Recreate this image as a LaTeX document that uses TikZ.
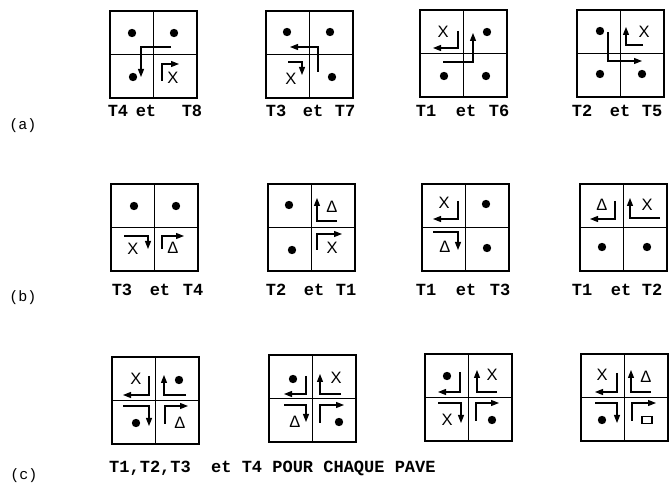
\documentclass[tikz,border=0pt]{standalone}
\usepackage{fontspec}
\setmainfont{Liberation Sans}
\newfontfamily\labfont{Liberation Mono}
\usetikzlibrary{arrows.meta}
\newcommand\sqgrid{\draw[sqframe] (0,0) rectangle (87,87); \draw[sqdiv] (43.5,0) -- (43.5,87) (0,43.5) -- (87,43.5);}
\newcommand\pdot[1]{\fill #1 circle (4.2pt);}
\begin{document}
\begin{tikzpicture}[x=1pt,y=-1pt,
 sqframe/.style={line width=1.7pt},
 sqdiv/.style={line width=1.2pt},
 arw/.style={line width=1.3pt,-{Triangle[length=8pt,width=6pt]}},
 sym/.style={font=\fontsize{16.5}{16.5}\selectfont, inner sep=0pt},
 lab/.style={font=\labfont\bfseries\fontsize{17}{17}\selectfont, anchor=base, inner sep=0pt},
 rowlab/.style={font=\labfont\fontsize{15}{15}\selectfont, inner sep=0pt}]
\useasboundingbox (0,0) rectangle (670,486);
\fill[white] (0,0) rectangle (670,486);
% ---------------- row (a)
\begin{scope}[shift={(110,11)}]
 \sqgrid
 \pdot{(22,22)} \pdot{(64,22)} \pdot{(23,66)}
 \draw[arw] (61,36) -- (31,36) -- (31,66);
 \draw[arw] (52,70) -- (52,53) -- (69,53);
 \node[sym] (a1x) at (63,67) {X};
\end{scope}
\begin{scope}[shift={(266,11)}]
 \sqgrid
 \pdot{(21,21)} \pdot{(64,21)} \pdot{(66,66)}
 \draw[arw] (52,61) -- (52,36) -- (24,36);
 \draw[arw] (22,51) -- (36,51) -- (36,64);
 \node[sym] (a2x) at (25,68) {X};
\end{scope}
\begin{scope}[shift={(420,10)}]
 \sqgrid
 \node[sym] (a3x) at (23,22) {X};
 \draw[arw] (38,21) -- (38,38) -- (13,38);
 \pdot{(67,22)}
 \draw[arw] (23,52) -- (53,52) -- (53,23);
 \pdot{(24,66)} \pdot{(66,66)}
\end{scope}
\begin{scope}[shift={(577,10)}]
 \sqgrid
 \pdot{(23,21)} \pdot{(23,64)} \pdot{(65,64)}
 \draw[arw] (31,22) -- (31,51) -- (65,51);
 \node[sym] (a4x) at (67,22) {X};
 \draw[arw] (66,35) -- (49,35) -- (49,17);
\end{scope}
% ---------------- row (b)
\begin{scope}[shift={(111,184)}]
 \sqgrid
 \pdot{(23,22)} \pdot{(65,22)}
 \node[sym] (b1x) at (22,65) {X};
 \draw[arw] (13,52) -- (37,52) -- (37,65);
 \node[sym] (b1d) at (62,64) {Δ};
 \draw[arw] (51,65) -- (51,52) -- (73,52);
\end{scope}
\begin{scope}[shift={(268,184)}]
 \sqgrid
 \pdot{(21,21)} \pdot{(24,66)}
 \node[sym] (b2d) at (64,23) {Δ};
 \draw[arw] (69,37) -- (49,37) -- (49,14);
 \node[sym] (b2x) at (64,64) {X};
 \draw[arw] (49,66) -- (49,50) -- (74,50);
\end{scope}
\begin{scope}[shift={(422,184)}]
 \sqgrid
 \node[sym] (b3x) at (22,19) {X};
 \draw[arw] (36,17) -- (36,35) -- (11,35);
 \pdot{(64,20)}
 \node[sym] (b3d) at (23,63) {Δ};
 \draw[arw] (11,48) -- (36,48) -- (36,66);
 \pdot{(65,64)}
\end{scope}
\begin{scope}[shift={(580,184)}]
 \sqgrid
 \node[sym] (b4d) at (22,21) {Δ};
 \draw[arw] (35,17) -- (35,35) -- (10,35);
 \node[sym] (b4x) at (67,21) {X};
 \draw[arw] (80,34) -- (50,34) -- (50,14);
 \pdot{(22,63)} \pdot{(67,63)}
\end{scope}
% ---------------- row (c)
\begin{scope}[shift={(112,357)}]
 \sqgrid
 \node[sym] (c1x) at (24,22) {X};
 \draw[arw] (37,19) -- (37,38) -- (11,38);
 \pdot{(67,23)}
 \draw[arw] (74,38) -- (52,38) -- (52,18);
 \pdot{(24,66)}
 \draw[arw] (11,49) -- (37,49) -- (37,69);
 \node[sym] (c1d) at (68,66) {Δ};
 \draw[arw] (53,67) -- (53,49) -- (76,49);
\end{scope}
\begin{scope}[shift={(269,355)}]
 \sqgrid
 \pdot{(24,24)}
 \draw[arw] (37,21) -- (37,39) -- (15,39);
 \node[sym] (c2x) at (67,23) {X};
 \draw[arw] (72,39) -- (51,39) -- (51,19);
 \node[sym] (c2d) at (26,67) {Δ};
 \draw[arw] (15,50) -- (37,50) -- (37,67);
 \pdot{(70,67)}
 \draw[arw] (51,68) -- (51,50) -- (75,50);
\end{scope}
\begin{scope}[shift={(425,354)}]
 \sqgrid
 \pdot{(22,22)}
 \draw[arw] (35,18) -- (35,38) -- (13,38);
 \node[sym] (c3x) at (67,21) {X};
 \draw[arw] (72,38) -- (52,38) -- (52,16);
 \node[sym] (c3y) at (22,66) {X};
 \draw[arw] (13,49) -- (36,49) -- (36,69);
 \pdot{(67,66)}
 \draw[arw] (51,67) -- (51,49) -- (74,49);
\end{scope}
\begin{scope}[shift={(581,354)}]
 \sqgrid
 \node[sym] (c4x) at (21,21) {X};
 \draw[arw] (36,19) -- (36,38) -- (14,38);
 \node[sym] (c4d) at (65,23) {Δ};
 \draw[arw] (70,38) -- (50,38) -- (50,16);
 \pdot{(21,66)}
 \draw[arw] (14,49) -- (36,49) -- (36,69);
 \draw[line width=1.4pt] (61,62.5) rectangle (71,69.5);
 \draw[arw] (51,67) -- (51,49) -- (75,49);
\end{scope}
% ---------------- labels
\node[lab] (la1a) at (118,117) {T4}; \node[lab] (la1b) at (146,117) {et}; \node[lab] (la1c) at (192,117) {T8};
\node[lab] (la2a) at (276,117) {T3}; \node[lab] (la2b) at (313,117) {et}; \node[lab] (la2c) at (345,117) {T7};
\node[lab] (la3a) at (426,117) {T1}; \node[lab] (la3b) at (466,117) {et}; \node[lab] (la3c) at (499,117) {T6};
\node[lab] (la4a) at (582,117) {T2}; \node[lab] (la4b) at (620,117) {et}; \node[lab] (la4c) at (652,117) {T5};
\node[lab] (lb1a) at (122,296) {T3}; \node[lab] (lb1b) at (160,296) {et}; \node[lab] (lb1c) at (193,296) {T4};
\node[lab] (lb2a) at (276,296) {T2}; \node[lab] (lb2b) at (314,296) {et}; \node[lab] (lb2c) at (346,296) {T1};
\node[lab] (lb3a) at (426,296) {T1}; \node[lab] (lb3b) at (466,296) {et}; \node[lab] (lb3c) at (500,296) {T3};
\node[lab] (lb4a) at (582,296) {T1}; \node[lab] (lb4b) at (621,296) {et}; \node[lab] (lb4c) at (652,296) {T2};
\node[lab, anchor=base west] (lc) at (109,472) {T1,T2,T3~~et T4 POUR CHAQUE PAVE};
\node[rowlab] (ra) at (23,126) {(a)};
\node[rowlab] (rb) at (23,298) {(b)};
\node[rowlab] (rc) at (24,476) {(c)};
\end{tikzpicture}
\end{document}
